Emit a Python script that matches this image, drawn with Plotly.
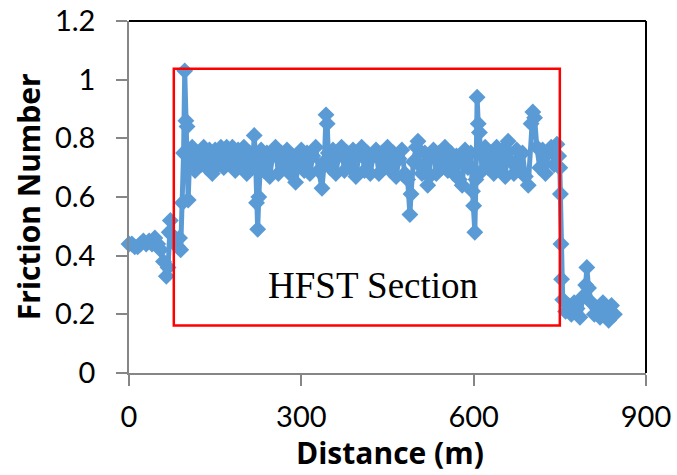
import plotly.graph_objects as go

distance_m = [
    0, 5, 10, 15, 20, 25, 30, 35, 40, 45, 50, 55, 60, 65, 68, 70, 72, 75, 80, 85,
    88, 90, 93, 95, 97, 99, 101, 103, 105, 110, 115, 120, 125, 130, 135, 140, 145, 150, 155, 160,
    165, 170, 175, 180, 185, 190, 195, 200, 205, 210, 215, 218, 220, 222, 224, 226, 228, 230, 235, 240,
    245, 250, 255, 260, 265, 270, 275, 280, 285, 290, 295, 300, 305, 310, 315, 320, 325, 330, 336, 340,
    343, 345, 347, 350, 355, 360, 365, 370, 375, 380, 385, 390, 395, 400, 405, 410, 415, 420, 425, 430,
    435, 440, 445, 450, 455, 460, 465, 470, 475, 480, 485, 489, 491, 495, 500, 503, 505, 510, 515, 520,
    523, 525, 530, 535, 540, 545, 550, 555, 560, 565, 570, 575, 580, 583, 585, 590, 595, 598, 600, 602,
    604, 606, 608, 610, 612, 615, 620, 625, 630, 635, 640, 645, 650, 655, 660, 665, 670, 675, 680, 685,
    690, 695, 700, 703, 706, 710, 715, 720, 725, 730, 735, 740, 745, 748, 750, 751, 752, 753, 755, 760,
    765, 770, 775, 780, 785, 790, 795, 797, 800, 805, 810, 815, 820, 825, 830, 835, 840, 845,
]

friction_number = [
    0.44, 0.44, 0.43, 0.43, 0.44, 0.45, 0.44, 0.45, 0.44, 0.46, 0.44, 0.42, 0.38, 0.33, 0.36, 0.48, 0.52, 0.47, 0.44, 0.43,
    0.46, 0.42, 0.58, 0.75, 1.03, 0.86, 0.84, 0.59, 0.70, 0.77, 0.69, 0.75, 0.71, 0.77, 0.70, 0.76, 0.68, 0.76, 0.71, 0.77,
    0.70, 0.77, 0.72, 0.77, 0.69, 0.76, 0.71, 0.77, 0.68, 0.75, 0.70, 0.81, 0.74, 0.58, 0.49, 0.60, 0.70, 0.76, 0.69, 0.75,
    0.67, 0.74, 0.77, 0.68, 0.75, 0.70, 0.76, 0.68, 0.74, 0.65, 0.71, 0.76, 0.69, 0.75, 0.68, 0.74, 0.77, 0.69, 0.63, 0.72,
    0.88, 0.85, 0.75, 0.70, 0.76, 0.68, 0.74, 0.77, 0.69, 0.75, 0.70, 0.76, 0.67, 0.74, 0.77, 0.69, 0.75, 0.68, 0.74, 0.76,
    0.68, 0.75, 0.70, 0.77, 0.69, 0.75, 0.67, 0.73, 0.76, 0.68, 0.66, 0.54, 0.61, 0.72, 0.77, 0.79, 0.71, 0.68, 0.75, 0.64,
    0.67, 0.74, 0.76, 0.68, 0.75, 0.70, 0.77, 0.69, 0.75, 0.68, 0.74, 0.66, 0.64, 0.71, 0.76, 0.70, 0.75, 0.62, 0.57, 0.48,
    0.66, 0.94, 0.85, 0.82, 0.75, 0.69, 0.77, 0.70, 0.75, 0.68, 0.77, 0.70, 0.76, 0.67, 0.79, 0.72, 0.68, 0.76, 0.69, 0.75,
    0.67, 0.64, 0.85, 0.89, 0.87, 0.77, 0.70, 0.76, 0.68, 0.75, 0.77, 0.71, 0.78, 0.74, 0.70, 0.61, 0.44, 0.32, 0.25, 0.21,
    0.23, 0.20, 0.24, 0.22, 0.19, 0.26, 0.30, 0.36, 0.29, 0.24, 0.20, 0.22, 0.19, 0.24, 0.21, 0.18, 0.23, 0.20,
]

x_ticks = [0, 300, 600, 900]
x_tick_labels = ["0", "300", "600", "900"]
y_ticks = [0, 0.2, 0.4, 0.6, 0.8, 1.0, 1.2]
y_tick_labels = ["0", "0.2", "0.4", "0.6", "0.8", "1", "1.2"]

section_box = {"x0": 78, "x1": 750, "y0": 0.162, "y1": 1.037}
section_label = "HFST Section"
section_label_pos = (424, 0.30)

blue = "#5B9BD5"
axis_grey = "#868686"
tick_font = dict(family="Lato, Open Sans, sans-serif", size=29, color="#000000")
title_font = dict(family="Open Sans, Lato, sans-serif", size=30, color="#000000")

fig = go.Figure()
fig.add_trace(go.Scatter(
    x=distance_m, y=friction_number, mode="lines+markers",
    line=dict(color=blue, width=5),
    marker=dict(symbol="diamond", size=13, color=blue),
    cliponaxis=False, showlegend=False,
))

fig.add_shape(type="rect", xref="x", yref="y",
              x0=section_box["x0"], x1=section_box["x1"],
              y0=section_box["y0"], y1=section_box["y1"],
              line=dict(color="#FF0000", width=2.5), layer="above")
# plot-area border (top and right)
fig.add_shape(type="line", xref="paper", yref="paper", x0=0, x1=1, y0=1, y1=1,
              line=dict(color="#000000", width=2))
fig.add_shape(type="line", xref="paper", yref="paper", x0=1, x1=1, y0=0, y1=1,
              line=dict(color="#000000", width=2))

fig.add_annotation(x=section_label_pos[0], y=section_label_pos[1], xref="x", yref="y",
                   text=section_label, showarrow=False, xanchor="center", yanchor="middle",
                   font=dict(family="Liberation Serif, Times New Roman, serif", size=37, color="#000000"))

fig.add_annotation(x=-0.195, y=0.5, xref="paper", yref="paper", text="<b>Friction Number</b>",
                   textangle=-90, showarrow=False, xanchor="center", yanchor="middle", font=title_font)
fig.add_annotation(x=0.505, y=-0.226, xref="paper", yref="paper", text="<b>Distance (m)</b>",
                   showarrow=False, xanchor="center", yanchor="middle", font=title_font)

fig.update_xaxes(range=[0, 900], tickvals=x_ticks, ticktext=x_tick_labels, automargin=False,
                 showgrid=False, zeroline=False, showline=True, linecolor=axis_grey, linewidth=1.5,
                 ticks="outside", ticklen=11, tickwidth=1.5, tickcolor=axis_grey,
                 tickfont=tick_font, ticklabelstandoff=6)
fig.update_yaxes(range=[0, 1.2], tickvals=y_ticks, ticktext=y_tick_labels, automargin=False,
                 showgrid=False, zeroline=False, showline=True, linecolor=axis_grey, linewidth=1.5,
                 ticks="outside", ticklen=11, tickwidth=1.5, tickcolor=axis_grey,
                 tickfont=tick_font, ticklabelstandoff=15)

fig.update_layout(width=677, height=475, margin=dict(l=129, r=31, t=21, b=102),
                  plot_bgcolor="white", paper_bgcolor="white")

fig.write_html("out.html", config={"displayModeBar": False},
               post_script="document.body.style.margin='0px';")
